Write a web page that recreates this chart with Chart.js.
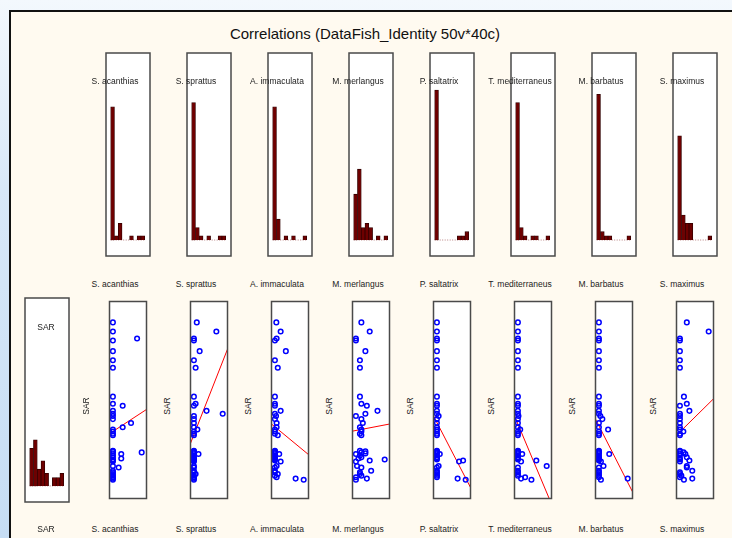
<!DOCTYPE html>
<html>
<head>
<meta charset="utf-8">
<script src="https://cdn.jsdelivr.net/npm/chart.js@4.4.1/dist/chart.umd.min.js"></script>
<style>
  html, body { margin: 0; padding: 0; }
  body { width: 732px; height: 538px; overflow: hidden; position: relative;
         background: linear-gradient(to bottom, #f3f8fd 0%, #d8e8f8 35%, #c6ddf4 100%); }
  #frame { position: absolute; left: 9px; top: 10px; width: 740px; height: 540px;
           background: #fffaf0; border-left: 2px solid #111; border-top: 2px solid #111; }
  canvas { position: absolute; }
  .lbl { position: absolute; font-family: Arial, "Liberation Sans", sans-serif; font-size: 8.5px;
         color: #222; white-space: nowrap; transform: translate(-50%, -50%); z-index: 2; }
  #title { font-size: 15px; color: #111; }
  .rot { transform: translate(-50%, -50%) rotate(-90deg); }
</style>
</head>
<body>
<div id="frame"></div>
<script>
// Correlations (DataFish_Identity 50v*40c) - SAR vs 8 species

const species = ['S. acanthias', 'S. sprattus', 'A. immaculata', 'M. merlangus',
                 'P. saltatrix', 'T. mediterraneus', 'M. barbatus', 'S. maximus'];

// SAR of the 40 cases (scaled 0-100)
const sar = [89.4, 84.8, 81.2, 80.2, 74.8, 70.2, 66.4, 51.7, 48.1, 47.1,
             44.5, 43.0, 41.9, 40.3, 38.3, 36.2, 35.0, 34.0, 32.9, 32.1,
             24.2, 23.9, 23.4, 22.9, 22.6, 21.8, 20.9, 20.3, 19.8, 19.3,
             18.8, 16.5, 15.7, 14.1, 13.3, 12.4, 11.6, 10.8, 10.1, 9.5];

// species abundance of the same cases (scaled 0-1)
const acanthias = [0, 0, .84, 0, 0, 0, 0, 0, 0, .34, 0, 0, 0, 0, .63, .34, 0, 0, 0, 0,
                   0, 0, 1.0, 0, .29, 0, 0, .29, 0, 0, 0, 0, .2, 0, 0, 0, 0, 0, 0, 0];
const sprattus = [.1, .78, 0, 0, .2, 0, .06, 0, .06, 0, .44, 1.0, 0, 0, 0, 0, .12, 0, 0, 0,
                  0, 0, 0, 0, .16, 0, 0, 0, 0, 0, 0, 0, 0, 0, 0, .06, 0, 0, 0, 0];
const immaculata = [.05, .2, .06, 0, .38, 0, .1, 0, 0, 0, .2, 0, .04, 0, .06, .06, 0, 0, 0, .1,
                    0, 0, 0, 0, .15, 0, 0, 0, 0, 0, .2, .06, 0, 0, 0, .1, 0, .06, .72, 1.0];
const merlangus = [.19, .48, 0, 0, .33, .14, .14, .14, .19, .38, .75, .33, 0, .19, .24, .14, .19, .19, .14, .19,
                   .14, .33, .19, .33, 0, .14, .19, .09, 1.0, .48, 0, .04, .19, .53, .14, .14, .19, 0, .38, 0];
const saltatrix = [0, 0, 0, 0, 0, 0, 0, 0, 0, 0, 0, 0, .06, 0, 0, 0, 0, 0, 0, 0,
                   0, 0, 0, 0, .1, 0, 0, 0, 0, .91, .77, .06, 0, 0, 0, 0, 0, 0, .72, 1.0];
const mediterraneus = [0, 0, 0, 0, 0, 0, 0, 0, 0, 0, 0, 0, .02, 0, 0, 0, .08, 0, 0, 0,
                       0, 0, 0, 0, .15, 0, 0, 0, 0, .64, .11, 1.0, 0, 0, 0, 0, 0, .25, .11, .47];
const barbatus = [0, 0, 0, 0, 0, 0, 0, 0, 0, 0, 0, 0, .05, .12, 0, 0, .32, 0, 0, 0,
                  0, 0, 0, 0, .36, 0, 0, 0, 0, 0, .07, .16, 0, 0, 0, 0, 0, 0, 1.0, .07];
const maximus = [.24, 1.0, 0, 0, 0, 0, 0, .14, .24, 0, .33, 0, 0, 0, 0, 0, 0, .12, 0, 0,
                 0, 0, .13, 0, .19, 0, .24, 0, 0, .33, 0, .24, .24, .43, 0, 0, .05, 0, .43, .14];
const speciesValues = [acanthias, sprattus, immaculata, merlangus, saltatrix, mediterraneus, barbatus, maximus];

// regression line of SAR at the left and right edge of each panel
const fitLeft = [32.9, 28.0, 37.8, 34.2, 41.9, 41.9, 40.3, 32.1];
const fitRight = [45.2, 75.8, 22.3, 37.8, 5.6, -2.8, 3.4, 50.6];

// histogram counts, 9 classes
const histSar = [9, 11, 4, 6, 3, 0, 2, 2, 3];
const histSpecies = [
    [32, 1, 4, 0, 0, 1, 0, 1, 1],
    [33, 3, 1, 0, 1, 0, 0, 1, 1],
    [32, 5, 0, 1, 0, 1, 0, 0, 1],
    [11, 17, 3, 4, 3, 0, 1, 0, 1],
    [36, 0, 0, 0, 0, 0, 1, 1, 2],
    [33, 3, 1, 0, 1, 1, 0, 0, 1],
    [35, 2, 1, 1, 0, 0, 0, 0, 1],
    [25, 6, 4, 4, 0, 0, 0, 0, 1],
];

const X_MIN = -0.118, X_MAX = 1.167;

const boxPlugin = {
    id: 'box',
    beforeDraw(chart) {
        const { ctx, chartArea: a } = chart;
        ctx.save();
        ctx.fillStyle = '#ffffff';
        ctx.fillRect(a.left, a.top, a.right - a.left, a.bottom - a.top);
        ctx.restore();
    },
    afterDraw(chart) {
        const { ctx, chartArea: a } = chart;
        ctx.save();
        ctx.strokeStyle = '#4a4a4a';
        ctx.lineWidth = 1.5;
        ctx.strokeRect(a.left, a.top, a.right - a.left, a.bottom - a.top);
        ctx.restore();
    }
};

function makeCanvas(left, top, w, h) {
    const c = document.createElement('canvas');
    c.width = w + 4;
    c.height = h + 4;
    c.style.left = (left - 2) + 'px';
    c.style.top = (top - 2) + 'px';
    document.body.appendChild(c);
    return c;
}

function label(text, x, y, cls) {
    const d = document.createElement('div');
    d.className = 'lbl' + (cls ? ' ' + cls : '');
    d.textContent = text;
    d.style.left = x + 'px';
    d.style.top = y + 'px';
    document.body.appendChild(d);
    return d;
}

const baseOptions = {
    responsive: false,
    animation: false,
    layout: { padding: 2 },
    plugins: { legend: { display: false }, tooltip: { enabled: false } },
};

function histChart(canvas, counts) {
    const bars = counts.map((v, i) => ({ x: i + 0.5, y: v }));
    new Chart(canvas, {
        type: 'bar',
        data: {
            datasets: [{
                type: 'bar',
                data: bars,
                backgroundColor: '#6e0000',
                borderColor: '#300000',
                borderWidth: 0.8,
                barThickness: 3.8,
                order: 1,
            }, {
                type: 'line',
                data: [{ x: 0, y: 0 }, { x: counts.length, y: 0 }],
                borderColor: '#b88080',
                borderWidth: 1,
                borderDash: [1, 1.5],
                pointRadius: 0,
                order: 2,
            }],
        },
        options: {
            ...baseOptions,
            scales: {
                x: { type: 'linear', offset: false, min: -1.24, max: 10.4, display: false },
                y: { min: -3.84, max: 44.9, display: false },
            },
        },
        plugins: [boxPlugin],
    });
}

function scatterChart(canvas, xs, k) {
    const pts = xs.map((v, i) => ({ x: v, y: sar[i] }));
    new Chart(canvas, {
        type: 'scatter',
        data: {
            datasets: [{
                data: pts,
                pointRadius: 2.3,
                pointBorderWidth: 1.5,
                pointBorderColor: '#0000ff',
                pointBackgroundColor: 'rgba(0,0,0,0)',
                order: 1,
            }, {
                type: 'line',
                data: [{ x: X_MIN, y: fitLeft[k] }, { x: X_MAX, y: fitRight[k] }],
                borderColor: '#ff0000',
                borderWidth: 1,
                pointRadius: 0,
                clip: 0,
                order: 2,
            }],
        },
        options: {
            ...baseOptions,
            scales: {
                x: { type: 'linear', min: X_MIN, max: X_MAX, display: false },
                y: { min: 0, max: 100, display: false },
            },
        },
        plugins: [boxPlugin],
    });
}

// title
label('Correlations (DataFish_Identity 50v*40c)', 365, 33).id = 'title';

// top row: histograms of each species
for (let k = 0; k < species.length; k++) {
    const left = 106 + 81 * k;
    histChart(makeCanvas(left, 53, 44, 203), histSpecies[k]);
    label(species[k], left + 9, 81);
}

// bottom row: SAR histogram then SAR vs species
histChart(makeCanvas(25, 298, 44, 204), histSar);
label('SAR', 46, 327);
label('SAR', 46, 529);

for (let k = 0; k < species.length; k++) {
    const left = 106 + 81 * k;
    scatterChart(makeCanvas(left, 298, 44, 204), speciesValues[k], k);
    label(species[k], left + 9, 284);
    label(species[k], left + 9, 529);
    label('SAR', left - 20, 406, 'rot');
}
</script>
</body>
</html>
